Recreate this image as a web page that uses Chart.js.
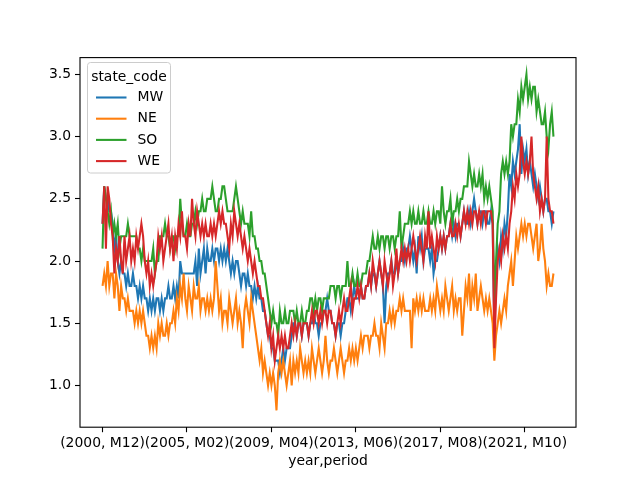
<!DOCTYPE html>
<html>
<head>
<meta charset="utf-8">
<script src="https://cdn.jsdelivr.net/npm/chart.js@4/dist/chart.umd.min.js"></script>
<style>
html,body{margin:0;padding:0;background:#fff;}
canvas{display:block;}
</style>
</head>
<body>
<canvas id="c" width="640" height="480"></canvas>
<script>
// Monthly series, Dec 2000 .. Mar 2023
const startYear = 2000, startMonth = 12, nPoints = 268;
const seriesNames = ["MW", "NE", "SO", "WE"];
const seriesColors = ["#1f77b4", "#ff7f0e", "#2ca02c", "#d62728"];
const tickIndices = [0, 50, 100, 150, 200, 250];
const yTicks = [1.0, 1.5, 2.0, 2.5, 3.0, 3.5];

const MW = [2.3,
 2.6,2.5,2.5,2.4,2.4,2.3,2.1,2.2,2.0,1.9,2.0,1.9,
 1.9,1.8,1.9,1.8,1.8,1.9,1.8,1.8,1.7,1.8,1.7,1.8,
 1.7,1.7,1.6,1.7,1.6,1.7,1.6,1.7,1.7,1.6,1.7,1.6,
 1.7,1.7,1.8,1.7,1.7,1.8,1.7,1.8,1.7,2.0,1.9,1.9,
 1.9,1.9,1.9,1.9,1.9,1.9,2.0,1.8,2.1,1.9,2.0,2.1,
 1.9,2.1,2.0,2.0,2.1,2.0,2.1,2.1,2.0,2.1,2.0,2.1,
 2.0,2.1,2.0,1.9,2.0,1.9,2.0,2.0,1.9,1.8,1.9,1.9,
 1.8,1.9,1.8,1.8,1.7,1.8,1.7,1.8,1.7,1.7,1.6,1.6,
 1.5,1.4,1.4,1.3,1.3,1.2,1.2,1.2,1.1,1.2,1.3,1.2,
 1.3,1.3,1.3,1.4,1.5,1.5,1.4,1.5,1.5,1.4,1.5,1.5,
 1.5,1.4,1.5,1.5,1.6,1.5,1.5,1.4,1.5,1.5,1.6,1.6,
 1.7,1.6,1.6,1.5,1.5,1.4,1.5,1.5,1.4,1.5,1.5,1.6,
 1.7,1.7,1.6,1.7,1.8,1.7,1.7,1.7,1.8,1.7,1.7,1.8,
 1.8,1.9,1.8,1.9,1.9,1.8,1.9,2.0,1.9,1.8,1.5,1.8,
 1.9,1.9,2.0,1.9,1.9,2.0,1.9,2.0,2.0,2.1,2.0,2.1,
 2.1,2.2,2.1,2.0,2.1,1.9,2.2,2.1,2.2,2.0,2.1,2.1,
 2.1,2.0,2.1,1.9,2.0,2.0,2.1,2.2,2.1,2.2,2.1,2.2,
 2.2,2.3,2.2,2.3,2.2,2.3,2.3,2.2,2.3,2.4,2.3,2.3,
 2.4,2.3,2.4,2.5,2.4,2.3,2.4,2.4,2.3,2.4,2.4,2.3,
 2.3,2.4,2.3,1.4,1.9,2.1,2.0,2.2,2.1,2.3,2.2,2.4,
 2.7,2.6,2.8,2.7,2.8,2.9,3.1,2.7,2.9,2.8,2.9,2.7,
 2.8,2.7,2.6,2.7,2.6,2.5,2.6,2.5,2.4,2.5,2.5,2.4,
 2.4,2.3,2.4];

const NE = [1.8,
 1.9,1.8,2.0,1.8,1.9,1.9,1.7,1.9,1.8,1.6,1.8,1.7,
 1.7,1.6,1.7,1.6,1.6,1.6,1.5,1.6,1.5,1.6,1.5,1.6,
 1.5,1.4,1.4,1.3,1.4,1.3,1.4,1.3,1.5,1.4,1.5,1.4,
 1.4,1.5,1.4,1.5,1.5,1.6,1.5,1.7,1.6,1.8,1.7,1.9,
 1.7,1.6,1.8,1.7,1.6,1.8,1.7,1.7,1.8,1.6,1.7,1.7,
 1.6,1.7,1.6,1.7,1.6,1.7,2.0,1.8,1.6,1.7,1.5,1.6,
 1.6,1.5,1.7,1.6,1.5,1.6,1.7,1.5,1.6,1.5,1.3,1.6,
 1.7,1.6,1.5,1.7,1.6,1.5,1.4,1.3,1.2,1.3,1.1,1.2,
 1.1,1.0,1.1,1.0,1.1,1.0,0.8,1.1,1.2,1.1,1.2,1.1,
 1.0,1.1,1.2,1.0,1.2,1.1,1.2,1.1,1.3,1.2,1.1,1.2,
 1.1,1.2,1.1,1.3,1.2,1.1,1.2,1.3,1.2,1.1,1.2,1.4,
 1.2,1.1,1.2,1.2,1.3,1.2,1.1,1.2,1.3,1.2,1.1,1.2,
 1.2,1.3,1.2,1.3,1.2,1.3,1.2,1.3,1.4,1.3,1.4,1.4,
 1.4,1.3,1.4,1.4,1.5,1.4,1.4,1.3,1.5,1.4,1.3,1.5,
 1.5,1.6,1.5,1.6,1.5,1.6,1.6,1.7,1.6,1.7,1.6,1.6,
 1.6,1.6,1.3,1.7,1.6,1.7,1.6,1.7,1.6,1.7,1.6,1.6,
 1.6,1.7,1.6,1.7,1.6,1.8,1.7,1.6,1.7,1.6,1.8,1.7,
 1.6,1.7,1.8,1.6,1.7,1.6,1.7,1.7,1.4,1.6,1.8,1.7,
 1.9,1.6,1.8,1.7,1.9,1.6,1.7,1.8,1.7,1.6,1.7,1.6,
 1.7,1.6,1.5,1.2,1.4,1.5,1.6,1.5,1.6,1.7,1.6,1.8,
 1.9,2.0,1.8,2.0,2.2,2.1,2.2,2.3,2.2,2.3,2.2,2.3,
 2.3,2.2,2.1,2.2,2.3,2.0,2.1,2.3,2.1,2.0,1.8,1.9,
 1.8,1.8,1.9];

const SO = [2.1,
 2.6,2.5,2.4,2.3,2.4,2.2,2.3,2.2,2.3,2.1,2.2,2.2,
 2.2,2.2,2.3,2.2,2.2,2.2,2.2,2.2,2.1,2.1,2.0,2.1,
 2.0,2.0,2.0,2.0,2.0,2.1,1.9,2.0,2.0,2.2,2.2,2.2,
 2.3,2.2,2.2,2.1,2.2,2.2,2.1,2.2,2.2,2.5,2.3,2.2,
 2.2,2.3,2.2,2.2,2.3,2.3,2.4,2.3,2.4,2.4,2.5,2.4,
 2.4,2.5,2.5,2.5,2.6,2.5,2.4,2.4,2.5,2.5,2.6,2.6,
 2.5,2.4,2.4,2.4,2.4,2.5,2.6,2.5,2.4,2.3,2.4,2.3,
 2.3,2.3,2.2,2.4,2.2,2.2,2.1,2.1,2.0,2.0,1.9,1.9,
 1.8,1.7,1.6,1.5,1.6,1.5,1.5,1.4,1.6,1.5,1.5,1.6,
 1.5,1.5,1.6,1.6,1.6,1.5,1.6,1.5,1.5,1.6,1.5,1.5,
 1.6,1.6,1.7,1.7,1.6,1.7,1.6,1.7,1.7,1.6,1.7,1.7,
 1.7,1.7,1.8,1.8,1.8,1.7,1.8,1.8,1.7,1.8,1.8,1.8,
 2.0,1.8,1.8,1.9,1.8,1.8,1.9,1.8,1.8,1.9,1.9,1.9,
 2.0,2.0,2.1,2.2,2.1,2.1,2.2,2.1,2.2,2.2,2.1,2.2,
 2.2,2.1,2.2,2.2,2.1,2.2,2.2,2.4,2.1,2.2,2.3,2.3,
 2.3,2.4,2.3,2.4,2.3,2.3,2.4,2.3,2.3,2.4,2.3,2.3,
 2.4,2.3,2.3,2.4,2.3,2.4,2.4,2.3,2.6,2.4,2.3,2.4,
 2.4,2.5,2.3,2.4,2.4,2.5,2.4,2.5,2.5,2.6,2.6,2.6,
 2.8,2.7,2.6,2.7,2.6,2.6,2.7,2.6,2.7,2.5,2.6,2.5,
 2.6,2.5,2.4,1.7,2.0,2.3,2.4,2.7,2.8,2.7,2.8,2.7,
 2.8,3.1,3.0,3.1,3.1,3.3,3.2,3.4,3.3,3.4,3.5,3.3,
 3.4,3.3,3.4,3.4,3.2,3.3,3.2,3.1,3.1,3.2,3.0,2.9,
 3.1,3.2,3.0];

const WE = [2.3,
 2.6,2.1,2.6,2.5,2.3,2.2,1.9,2.1,2.0,2.2,2.0,1.9,
 2.2,2.0,2.1,2.2,2.0,2.1,2.0,2.2,2.1,2.2,2.3,2.2,
 2.0,1.9,2.0,1.8,1.9,1.8,1.9,2.0,2.2,2.1,2.2,2.0,
 2.1,2.2,2.3,2.1,2.2,2.0,2.2,2.1,2.3,2.2,2.4,2.2,
 2.2,2.1,2.3,2.2,2.5,2.3,2.2,2.4,2.3,2.2,2.3,2.2,
 2.3,2.2,2.2,2.3,2.2,2.3,2.2,2.3,2.4,2.3,2.4,2.3,
 2.3,2.2,2.1,2.3,2.2,2.4,2.3,2.2,2.3,2.2,2.1,2.2,
 2.1,2.0,2.1,2.0,1.9,2.0,1.9,1.8,1.8,1.7,1.7,1.6,
 1.5,1.4,1.5,1.3,1.4,1.2,1.3,1.4,1.3,1.4,1.3,1.4,
 1.3,1.3,1.4,1.5,1.4,1.5,1.4,1.5,1.5,1.4,1.5,1.5,
 1.5,1.4,1.5,1.6,1.5,1.6,1.6,1.5,1.6,1.5,1.6,1.6,
 1.5,1.6,1.6,1.5,1.5,1.4,1.5,1.6,1.5,1.6,1.7,1.6,
 1.6,1.7,1.8,1.6,1.7,1.7,1.8,1.7,1.8,1.7,1.7,1.8,
 1.8,1.9,1.8,2.0,1.9,1.8,1.9,2.0,1.9,1.8,2.0,1.9,
 1.8,1.9,2.0,1.8,1.9,2.1,1.9,2.0,2.1,2.0,2.1,2.0,
 2.1,2.0,2.1,2.2,2.1,2.0,2.1,2.2,2.1,2.0,2.2,2.1,
 2.4,2.1,2.2,2.1,2.0,2.2,2.1,2.2,2.1,2.2,2.1,2.2,
 2.2,2.3,2.2,2.2,2.3,2.2,2.3,2.2,2.3,2.4,2.3,2.4,
 2.3,2.4,2.3,2.4,2.4,2.3,2.4,2.3,2.4,2.4,2.3,2.4,
 2.4,2.4,2.3,1.3,1.7,2.0,2.1,2.0,2.2,2.1,2.2,2.1,
 2.3,2.4,2.6,2.5,2.7,2.6,2.7,3.0,2.8,2.7,2.8,2.7,
 2.8,3.0,2.7,2.6,2.5,2.6,2.4,2.5,2.4,2.5,3.0,2.5,
 2.4,2.4,2.3];

const seriesValues = [MW, NE, SO, WE];

// period labels "(year, Mxx)"
const periods = [];
for (let i = 0; i < nPoints; i++) {
  const m0 = (startMonth - 1) + i;
  const y = startYear + Math.floor(m0 / 12);
  const m = (m0 % 12) + 1;
  periods.push("(" + y + ", M" + String(m).padStart(2, "0") + ")");
}

const FONT = "'DejaVu Sans', sans-serif";
const FS = 13.9;

const datasets = seriesNames.map((name, k) => ({
  label: name,
  data: seriesValues[k].map((v, i) => ({x: i, y: v})),
  borderColor: seriesColors[k],
  backgroundColor: seriesColors[k],
  borderWidth: 2.08,
  pointRadius: 0,
  tension: 0,
  fill: false,
  order: seriesNames.length - k
}));

// data limits with 5% margins like matplotlib
let yMin = Infinity, yMax = -Infinity;
seriesValues.forEach(a => a.forEach(v => { if (v < yMin) yMin = v; if (v > yMax) yMax = v; }));
const yPad = (yMax - yMin) * 0.05;
const xPad = (nPoints - 1) * 0.05;

const frameAndLegend = {
  id: 'frameAndLegend',
  afterDraw(chart) {
    const ctx = chart.ctx;
    const a = chart.chartArea;
    ctx.save();
    ctx.strokeStyle = '#000';
    ctx.lineWidth = 1.1;
    ctx.strokeRect(a.left, a.top, a.right - a.left, a.bottom - a.top);
    // legend
    const lx = 87.5, ly = 62.5, lw = 83, lh = 110.5, r = 3;
    ctx.beginPath();
    ctx.moveTo(lx + r, ly);
    ctx.lineTo(lx + lw - r, ly);
    ctx.arcTo(lx + lw, ly, lx + lw, ly + r, r);
    ctx.lineTo(lx + lw, ly + lh - r);
    ctx.arcTo(lx + lw, ly + lh, lx + lw - r, ly + lh, r);
    ctx.lineTo(lx + r, ly + lh);
    ctx.arcTo(lx, ly + lh, lx, ly + lh - r, r);
    ctx.lineTo(lx, ly + r);
    ctx.arcTo(lx, ly, lx + r, ly, r);
    ctx.closePath();
    ctx.fillStyle = 'rgba(255,255,255,0.8)';
    ctx.fill();
    ctx.strokeStyle = '#cccccc';
    ctx.lineWidth = 1;
    ctx.stroke();
    ctx.fillStyle = '#000';
    ctx.font = FS + "px " + FONT;
    ctx.textBaseline = 'middle';
    ctx.textAlign = 'center';
    ctx.fillText('state_code', lx + lw / 2, 77);
    ctx.textAlign = 'left';
    seriesNames.forEach((name, k) => {
      const yy = 97.5 + k * 21.2;
      ctx.strokeStyle = seriesColors[k];
      ctx.lineWidth = 2.08;
      ctx.beginPath();
      ctx.moveTo(96, yy);
      ctx.lineTo(126.5, yy);
      ctx.stroke();
      ctx.fillStyle = '#000';
      ctx.fillText(name, 137.5, yy);
    });
    ctx.restore();
  }
};

new Chart(document.getElementById('c'), {
  type: 'line',
  data: { datasets },
  options: {
    responsive: false,
    animation: false,
    devicePixelRatio: 1,
    layout: { padding: { left: 0, right: 64, top: 57.6, bottom: 0 } },
    plugins: { legend: { display: false }, tooltip: { enabled: false } },
    scales: {
      x: {
        type: 'linear',
        min: -xPad,
        max: (nPoints - 1) + xPad,
        afterFit(s) { s.height = 52.8; },
        afterBuildTicks(s) { s.ticks = tickIndices.map(v => ({value: v})); },
        grid: { drawOnChartArea: false, drawTicks: true, tickLength: 5, color: '#000', tickWidth: 1.1 },
        border: { display: false },
        ticks: {
          color: '#000',
          font: { family: FONT, size: FS },
          padding: 3,
          maxRotation: 0,
          autoSkip: false,
          callback: v => periods[v]
        },
        title: {
          display: true, text: 'year,period', color: '#000',
          font: { family: FONT, size: FS },
          padding: { top: 0, bottom: 10 }
        }
      },
      y: {
        type: 'linear',
        min: yMin - yPad,
        max: yMax + yPad,
        afterFit(s) { s.width = 80; },
        afterBuildTicks(s) { s.ticks = yTicks.map(v => ({value: v})); },
        grid: { drawOnChartArea: false, drawTicks: true, tickLength: 5, color: '#000', tickWidth: 1.1 },
        border: { display: false },
        ticks: {
          color: '#000',
          font: { family: FONT, size: FS },
          padding: 4,
          callback: v => v.toFixed(1)
        }
      }
    }
  },
  plugins: [frameAndLegend]
});
</script>
</body>
</html>
